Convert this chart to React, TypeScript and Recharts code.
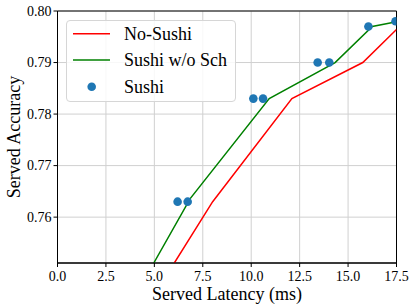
import React from 'react';
import {
  ComposedChart,
  Line,
  Scatter,
  XAxis,
  YAxis,
  CartesianGrid,
  Legend,
  ReferenceArea,
  Label,
} from 'recharts';

const noSushiX = [6.03, 8.01, 12.1, 15.76, 17.5];
const noSushiY = [0.7511, 0.763, 0.783, 0.79, 0.7964];

const withoutSchX = [4.97, 6.85, 10.93, 14.33, 16.25, 17.5];
const withoutSchY = [0.7511, 0.7636, 0.783, 0.79, 0.797, 0.7979];

const sushiX = [6.2, 6.72, 10.11, 10.61, 13.43, 14.03, 16.05, 17.45];
const sushiY = [0.763, 0.763, 0.783, 0.783, 0.79, 0.79, 0.797, 0.798];

const xTicks = [0, 2.5, 5, 7.5, 10, 12.5, 15, 17.5];
const yTicks = [0.76, 0.77, 0.78, 0.79, 0.8];

const X_MIN = 0;
const X_MAX = 17.5;
const Y_MIN = 0.7511;
const Y_MAX = 0.8;

const toPoints = (xs: number[], ys: number[]) => xs.map((x, i) => ({ x, y: ys[i] }));

const noSushiData = toPoints(noSushiX, noSushiY);
const withoutSchData = toPoints(withoutSchX, withoutSchY);
const sushiData = toPoints(sushiX, sushiY);

const FONT = '"Liberation Serif", "Times New Roman", serif';

const XTick = (props: any) => {
  const { x, y, payload } = props;
  return (
    <text x={x} y={y} dy="0.75em" textAnchor="middle" fontSize={14} fontFamily={FONT} fill="#000">
      {Number(payload.value).toFixed(1)}
    </text>
  );
};

const YTick = (props: any) => {
  const { x, y, payload } = props;
  return (
    <text x={x} y={y} dominantBaseline="central" textAnchor="end" fontSize={14} fontFamily={FONT} fill="#000">
      {Number(payload.value).toFixed(2)}
    </text>
  );
};

const renderLegend = () => (
  <div
    style={{
      width: 170,
      height: 82,
      boxSizing: 'border-box',
      border: '1px solid #d6d6d6',
      borderRadius: 4,
      background: 'rgba(255,255,255,0.85)',
    }}
  >
    <svg width={168} height={80} style={{ display: 'block' }}>
      <line x1={6} x2={43} y1={12.7} y2={12.7} stroke="#ff0000" strokeWidth={1.5} />
      <text x={57} y={12.7} dominantBaseline="central" fontSize={18} fontFamily={FONT} fill="#000">
        No-Sushi
      </text>
      <line x1={6} x2={43} y1={39} y2={39} stroke="#008000" strokeWidth={1.5} />
      <text x={57} y={39} dominantBaseline="central" fontSize={18} fontFamily={FONT} fill="#000">
        Sushi w/o Sch
      </text>
      <circle cx={24.7} cy={65.7} r={4.3} fill="#1f77b4" />
      <text x={57} y={65.7} dominantBaseline="central" fontSize={18} fontFamily={FONT} fill="#000">
        Sushi
      </text>
    </svg>
  </div>
);

export default function App() {
  return (
    <div style={{ position: 'absolute', left: 0, top: 0, width: 415, height: 308, background: '#fff', fontFamily: FONT }}>
      <ComposedChart
        width={415}
        height={308}
        margin={{ top: 11, right: 18.5, bottom: 0, left: 0 }}
        style={{ fontFamily: FONT }}
      >
        <CartesianGrid stroke="#d0d0d0" strokeWidth={1} vertical horizontal />
        <XAxis
          type="number"
          dataKey="x"
          domain={[X_MIN, X_MAX]}
          ticks={xTicks}
          allowDataOverflow
          height={45}
          tickSize={4}
          tickMargin={3}
          tick={<XTick />}
          tickLine={{ stroke: '#000' }}
          axisLine={{ stroke: '#000' }}
        >
          <Label
            content={() => (
              <text x={227} y={294} textAnchor="middle" dominantBaseline="central" fontSize={18} fontFamily={FONT} fill="#000">
                Served Latency (ms)
              </text>
            )}
          />
        </XAxis>
        <YAxis
          type="number"
          dataKey="y"
          domain={[Y_MIN, Y_MAX]}
          ticks={yTicks}
          allowDataOverflow
          width={57.5}
          tickSize={4}
          tickMargin={2}
          tick={<YTick />}
          tickLine={{ stroke: '#000' }}
          axisLine={{ stroke: '#000' }}
        >
          <Label
            content={() => (
              <text
                x={14}
                y={137}
                transform="rotate(-90 14 137)"
                textAnchor="middle"
                dominantBaseline="central"
                fontSize={18}
                fontFamily={FONT}
                fill="#000"
              >
                Served Accuracy
              </text>
            )}
          />
        </YAxis>
        <Line
          data={noSushiData}
          dataKey="y"
          type="linear"
          stroke="#ff0000"
          strokeWidth={1.5}
          dot={false}
          activeDot={false}
          isAnimationActive={false}
          name="No-Sushi"
        />
        <Line
          data={withoutSchData}
          dataKey="y"
          type="linear"
          stroke="#008000"
          strokeWidth={1.5}
          dot={false}
          activeDot={false}
          isAnimationActive={false}
          name="Sushi w/o Sch"
        />
        <Scatter
          data={sushiData}
          dataKey="y"
          fill="#1f77b4"
          isAnimationActive={false}
          name="Sushi"
          shape={(p: any) => <circle cx={p.cx} cy={p.cy} r={4.3} fill="#1f77b4" />}
        />
        <ReferenceArea
          x1={X_MIN}
          x2={X_MAX}
          y1={Y_MIN}
          y2={Y_MAX}
          fill="none"
          fillOpacity={0}
          stroke="#000"
          strokeWidth={1}
          ifOverflow="visible"
        />
        <Legend
          layout="horizontal"
          verticalAlign="middle"
          align="center"
          content={renderLegend}
          wrapperStyle={{ left: 66, top: 20, width: 170, height: 82 }}
        />
      </ComposedChart>
    </div>
  );
}
